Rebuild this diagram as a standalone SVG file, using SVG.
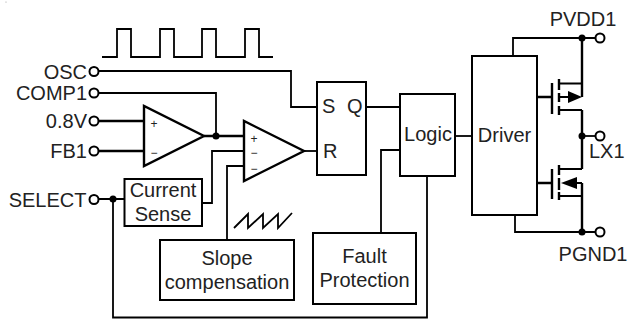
<svg xmlns="http://www.w3.org/2000/svg" width="628" height="320" viewBox="0 0 628 320">
<style>
text{font-family:"Liberation Sans",Arial,sans-serif;font-size:20px;fill:#222}
.m{text-anchor:middle}.e{text-anchor:end}
.sm{font-size:12px}
.l{fill:none;stroke:#000;stroke-width:1.8}
.b{fill:#fff;stroke:#000;stroke-width:2}
.t{fill:none;stroke:#000;stroke-width:2.4}
.p{fill:#fff;stroke:#000;stroke-width:2}
.d{fill:#000}
</style>
<circle cx="6" cy="2" r="0.6" fill="#999"/>
<g id="connectors">
<path class="l" d="M102 57H117V29H131V57H160V29H174V57H202V29H216V57H245V29H259V57H273"/>
<path class="l" d="M99 71H291V107H316"/>
<path class="l" d="M99 93H216V136"/>
<path class="t" d="M99 121H144M99 151H144"/>
<path class="t" d="M204 136H244"/>
<path class="l" d="M202 203H212V151H244"/>
<path class="l" d="M227 240V166H244"/>
<path class="l" d="M304 151H316"/>
<path class="l" d="M99 199H124M113 199V317.500H427V176"/>
<path class="l" d="M234 228L248 214V228L263 214V228L278 214V228L292 213"/>
<path class="l" d="M366 107H400"/>
<path class="l" d="M381 233V150H400"/>
<path class="l" d="M455 136H472"/>
<path class="l" d="M513 56V38H605"/>
<path class="l" d="M515 215V232H605"/>
<path class="l" d="M582 136H605"/>
<path class="t" d="M537 97H552M537 183H552"/>
</g>
<g id="osc"><circle class="p" cx="94" cy="71.500" r="4.500"/><text class="e" x="87" y="79">OSC</text></g>
<g id="comp1"><circle class="p" cx="94" cy="93" r="4.500"/><text class="e" x="87" y="100">COMP1</text></g>
<g id="v08"><circle class="p" cx="94" cy="121" r="4.500"/><text class="e" x="87" y="128">0.8V</text></g>
<g id="fb1"><circle class="p" cx="94" cy="151" r="4.500"/><text class="e" x="87" y="158">FB1</text></g>
<g id="select"><circle class="p" cx="94" cy="199.500" r="4.500"/><text class="e" x="86.500" y="207">SELECT</text><circle class="d" cx="113" cy="199" r="3.500"/></g>
<g id="error-amp"><path class="t" d="M144 106V166L204 136Z"/><text class="m sm" x="154" y="128">+</text><text class="m sm" x="154" y="157">−</text><circle class="d" cx="216" cy="136" r="3.500"/></g>
<g id="pwm-comp"><path class="t" d="M244 121V181L304 151Z"/><text class="m sm" x="254" y="143">+</text><text class="m sm" x="254" y="157">−</text><text class="m sm" x="254" y="173">−</text></g>
<g id="current-sense"><rect class="b" x="124.500" y="179" width="77.500" height="47"/><text class="m" x="163" y="197">Current</text><text class="m" x="163" y="221">Sense</text></g>
<g id="slope"><rect class="b" x="160" y="240" width="134" height="60"/><text class="m" x="227" y="265">Slope</text><text class="m" x="227" y="289">compensation</text></g>
<g id="latch"><rect class="b" x="317" y="82" width="49" height="93"/><text x="322" y="113">S</text><text x="347" y="113">Q</text><text x="323" y="158">R</text></g>
<g id="logic"><rect class="b" x="400" y="94" width="55" height="82"/><text class="m" x="428" y="141">Logic</text></g>
<g id="fault"><rect class="b" x="313" y="233" width="103" height="71"/><text class="m" x="364.500" y="263">Fault</text><text class="m" x="364.500" y="287">Protection</text></g>
<g id="driver"><rect class="b" x="472" y="56" width="65" height="159"/><text class="m" x="504.500" y="142">Driver</text></g>
<g id="hs-fet">
<path class="t" d="M552 83V114M559 79V90M559 93V102M559 106V115"/>
<path class="l" d="M559 83.500H582M559 97H570M559 110H582"/>
<path class="d" d="M568 91L582 97L568 103Z"/>
<path class="t" d="M582 38V97M582 110V136"/>
</g>
<g id="ls-fet">
<path class="t" d="M552 169V199M559 165V175M559 178V190M559 192V200"/>
<path class="l" d="M559 169H582M565 183H582M559 196H582"/>
<path class="d" d="M561 183L577 177V189Z"/>
<path class="t" d="M582 136V169M582 183V232"/>
</g>
<g id="pvdd1"><circle class="d" cx="582" cy="38" r="3.500"/><circle class="p" cx="600" cy="38" r="4.500"/><text class="m" x="583" y="26">PVDD1</text></g>
<g id="lx1"><circle class="d" cx="582" cy="136" r="3.500"/><circle class="p" cx="600" cy="136" r="4.500"/><text x="589" y="158">LX1</text></g>
<g id="pgnd1"><circle class="d" cx="582" cy="232" r="3.500"/><circle class="p" cx="600" cy="232" r="4.500"/><text class="m" x="593" y="261">PGND1</text></g>
</svg>
